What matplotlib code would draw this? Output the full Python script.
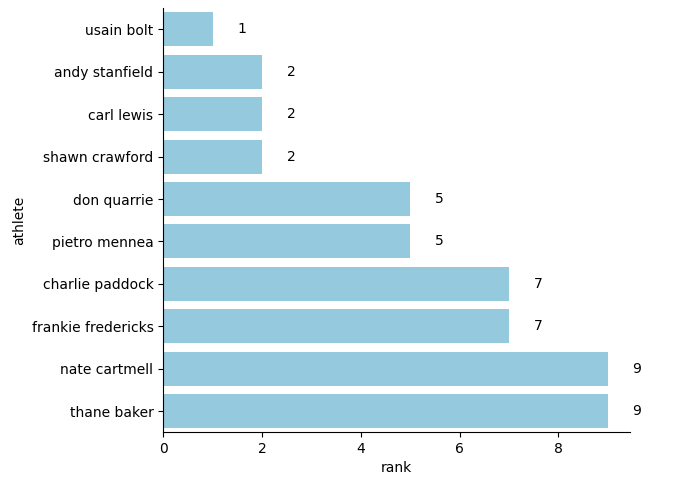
import matplotlib
matplotlib.use("Agg")
import matplotlib.pyplot as plt
import seaborn as sns
import pandas as pd

athletes = ['usain bolt', 'andy stanfield', 'carl lewis', 'shawn crawford',
            'don quarrie', 'pietro mennea', 'charlie paddock',
            'frankie fredericks', 'nate cartmell', 'thane baker']
ranks = [1, 2, 2, 2, 5, 5, 7, 7, 9, 9]

df = pd.DataFrame({'athlete': athletes, 'rank': ranks})

fig, ax = plt.subplots(figsize=(6.97, 4.84), dpi=100)
sns.barplot(data=df, x='rank', y='athlete', color='skyblue', ax=ax)

# value labels to the right of each bar
for i, v in enumerate(ranks):
    ax.text(v + 0.5, i, str(v), va='center', ha='left', fontsize=10)

sns.despine(ax=ax)
fig.subplots_adjust(left=0.234, right=0.904, top=0.983, bottom=0.107)
plt.savefig("out.png", dpi=100)
